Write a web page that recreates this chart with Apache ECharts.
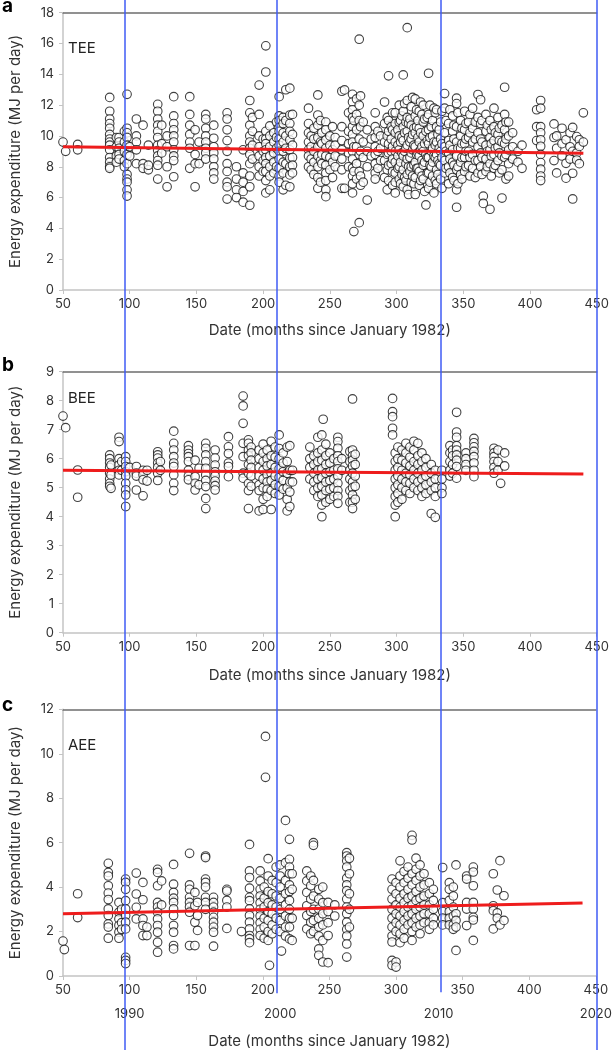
<!DOCTYPE html>
<html>
<head>
<meta charset="utf-8">
<script src="https://cdn.jsdelivr.net/npm/echarts@6/dist/echarts.min.js"></script>
<style>html,body{margin:0;padding:0;background:#fff}#c{width:615px;height:1050px}</style>
</head>
<body>
<div id="c"></div>
<script>
// ---- data (month since Jan 1982 : list of values, MJ per day) ----
const teeCols = [
 [50,[9.6]],[52,[9.0]],[61,[9.45,9.1]],
 [85,[12.5,11.6,11.1,10.8,10.5,10.1,9.8,9.6,9.4,9.1,8.6,8.3,8.0,7.9]],
 [90,[9.9,9.3,8.7,8.3]],[92,[9.9,9.6,9.2,8.8,8.5]],[96,[10.3,9.6,9.0,8.4,8.0]],
 [98,[12.7,10.5,10.2,9.9,9.4,8.8,8.2,7.5,7.2,7.0,6.5,6.1]],[100,[9.3,8.7]],
 [105,[11.1,10.0,9.6,9.1,8.2]],[110,[10.7,8.2,7.9]],[114,[9.4,7.8,8.1]],
 [121,[12.05,11.6,11.1,10.7,10.3,9.9,9.4,9.05,8.7,8.4,8.1,7.2]],[124,[10.7,9.5,8.9]],
 [128,[10.0,9.3,8.0,6.7]],[133,[12.55,11.3,10.8,10.4,10.0,9.6,9.1,8.7,8.4,7.35]],
 [145,[12.55,11.4,10.7,10.1,9.6,9.2,7.9]],[149,[10.4,8.8,8.2,6.7]],[152,[9.6,8.2]],
 [157,[11.4,11.1,10.5,10.0,9.6,9.2,8.9,8.5]],[163,[10.7,9.85,9.3,8.9,8.5,8.0,7.6,7.2]],
 [173,[11.5,11.1,10.4,9.7,9.0,8.2,7.7,7.0,6.7,5.9]],[180,[8.0,7.2,6.5,6.0]],
 [185,[9.1,7.6,7.0,6.4,5.7]],[190,[12.3,11.5,10.7,10.0,9.6,9.2,8.8,8.2,7.4,6.7,5.5]],
 [192,[11.2,10.3,9.4,8.5]],[197,[13.3,11.4,10.0,9.3,8.7,8.0,7.4]],[200,[9.8,9.0,8.4,7.7]],
 [202,[15.85,14.15,10.3,9.8,9.5,9.1,8.6,8.2,7.7,7.1,6.3]],[205,[10.65,10.0,9.3,8.7,8.0,7.4,6.5]],
 [208,[10.2,9.6,8.9,8.3,7.6]],[210,[10.9,9.9,9.2,8.0]],
 [212,[12.55,11.3,11.0,10.55,10.3,9.8,9.4,9.0,8.5,7.9,7.4,7.0]],
 [215,[11.2,10.8,10.2,9.6,9.0,8.3,7.6,6.5]],[217,[13.0,11.0,10.0,9.2,8.2,6.8]],
 [220,[13.1,11.36,10.8,10.3,9.74,9.1,8.55,8.0,7.47,6.7]],[222,[11.4,10.1,9.4,8.6,8.1,7.6]],
 [234,[11.8,10.8,10.2,9.6,9.1,8.7,8.0]],[236,[10.0,9.3,8.5,7.8]],[238,[10.5,9.8,9.0,8.3,7.5]],
 [241,[12.66,11.36,10.7,9.9,9.3,8.7,8.0,7.3,6.6]],[243,[11.0,9.6,8.4,7.0]],[244,[10.2,9.5,8.8,8.2]],
 [247,[10.9,10.4,9.74,9.2,8.7,8.1,7.6,7.1,6.5,6.06]],[250,[10.0,9.4,8.6,7.8]],
 [252,[10.6,9.1,8.3,7.3]],[254,[9.9,9.4,8.7,8.0]],[259,[12.9,10.6,9.7,9.1,8.5,7.8,6.6]],[261,[12.99,6.6]],
 [264,[11.5,10.3,9.5,8.9,8.0]],[267,[12.7,12.2,11.7,11.2,10.6,10.1,9.6,9.0,8.5,7.9,7.4,6.9,6.3]],
 [268,[3.79,11.0,9.3,7.7]],[270,[12.4,11.4,10.4,9.3,8.2,7.2]],[272,[16.28,12.0,11.0,9.8,8.8,7.7,4.37]],
 [273,[12.6,10.6,9.0,7.4,6.8]],
 [275,[10.9,9.6,8.6,7.0]],[278,[10.4,9.0,8.0,5.84]],[281,[9.8,8.7]],
 [284,[11.5,10.6,9.9,9.3,8.8,8.2,7.6,7.2]],[286,[10.3,9.0,7.9]],[288,[10.0,9.2,8.4]],
 [291,[12.2,10.8,9.6,8.4,7.3]],[293,[11.2,10.0,8.8,7.8,6.5]],
 [294,[13.9,11.0,10.3,9.5,8.9,8.1,7.1]],[296,[10.6,9.8,9.0,8.2]],[297,[11.5,10.4,9.3,8.5,7.7,6.8]],
 [299,[11.5,10.8,10.2,9.6,9.0,8.3,7.6,7.0,6.3]],[301,[10.4,9.4,8.7,7.9]],
 [302,[12.0,10.9,10.0,9.1,8.0,7.2]],[303,[11.0,9.6,8.3,6.9]],[304,[11.3,9.9,8.9,7.5]],
 [305,[13.96,11.6,10.6,9.7,8.7,7.8,6.7]],[306,[12.1,10.2,9.0,7.3]],
 [307,[10.9,9.2,8.2,7.1]],[308,[17.03,12.3,11.2,10.3,9.4,8.5,7.5,6.5]],[309,[10.8,9.9,8.0,6.2]],[310,[11.1,9.6,8.6,7.7]],
 [311,[11.9,10.7,9.8,8.9,8.0,7.0]],[312,[12.5,10.1,9.1,7.4]],[313,[10.5,9.4,8.1,6.9]],[314,[12.4,11.3,10.2,9.3,8.3,7.3,6.2]],
 [315,[11.7,10.6,8.8,7.9]],[316,[11.0,9.9,8.9,7.9]],[317,[11.6,10.5,9.6,8.7,7.7,6.8]],[318,[12.2,10.2,9.1,7.1]],[319,[11.4,9.3,8.4,7.4]],
 [320,[12.0,10.9,10.0,9.0,8.1,7.2]],[321,[11.1,9.5,8.3,6.4]],[322,[5.52,10.3,8.8]],[323,[11.2,9.7,8.6,7.6]],
 [324,[14.07,11.4,10.4,9.5,8.6,7.6,6.6]],[325,[12.0,9.9,8.1,7.0]],[326,[10.6,9.0,8.0]],[327,[11.0,10.0,9.2,8.3,7.4]],
 [328,[11.8,9.6,8.7,6.3]],[329,[11.5,9.4,8.6,7.1]],[330,[11.7,10.6,9.6,8.8,7.8,6.9]],[331,[10.1,8.4,7.5]],[332,[10.4,9.2,8.2]],
 [333,[10.9,9.8,9.0,8.1,7.2]],[334,[11.6,9.5,8.6,6.6]],[336,[12.75,11.8,10.2,9.3,8.4,7.6]],[337,[11.0,9.0,7.9]],
 [339,[10.8,9.7,8.9,8.0,6.9]],[340,[11.7,9.4,8.5,7.6]],
 [342,[11.3,10.3,9.1,8.3,7.3]],[343,[10.7,9.8,8.1,7.1]],[345,[12.45,12.1,10.6,9.6,8.7,7.8,6.5,5.37]],
 [346,[11.5,9.2,8.0,6.9]],[348,[11.0,10.0,9.2,8.3,7.5]],[349,[10.5,9.5,8.6,7.2]],[351,[11.6,10.4,9.5,8.6,7.7]],
 [352,[10.8,9.8,9.0,8.0]],[354,[10.9,9.9,9.0,8.1]],[355,[11.4,10.2,8.6,7.4]],
 [357,[11.8,10.5,9.6,8.8,7.9]],[359,[10.9,9.8,8.4,7.3]],[361,[12.69,11.2,10.2,9.3,8.4,7.6]],[363,[12.35,10.8,9.8,8.9,8.0]],
 [364,[11.0,9.6,8.6,7.5]],[365,[6.09,5.62]],[367,[11.4,10.3,9.4,8.5,7.7]],[368,[10.7,9.0,8.0]],[370,[11.0,9.9,9.1,8.2,5.24]],
 [371,[10.4,9.5,8.7,7.4]],[373,[11.8,10.6,9.7,8.8,7.9]],[374,[10.2,9.2,8.1]],[376,[11.2,10.1,9.3,8.4]],
 [377,[10.5,9.7,8.9,7.6]],[379,[10.7,9.6,8.7,7.8,5.97]],
 [381,[13.16,11.4,10.4,9.5,8.6]],[382,[10.9,9.8,8.8,7.2]],[384,[10.9,10.0,9.1,8.2,7.4]],[387,[10.2,9.3,8.5]],
 [391,[9.0,8.3]],[394,[9.4,7.9]],[405,[11.7,10.6,9.7]],
 [408,[12.3,11.8,10.6,10.2,9.75,9.33,8.8,8.27,7.84,7.4,7.1]],
 [418,[10.78,9.9,8.4]],[420,[10.0,9.2,7.6]],[424,[10.5,9.5,8.7]],[427,[9.75,8.22,7.26]],
 [430,[10.2,9.3,8.5]],[432,[10.55,9.0,7.58,5.91]],[435,[9.96,8.9,8.44]],[437,[9.75,9.32,8.2]],
 [440,[11.5,9.6]]
];
const beeCols = [
 [50,[7.47]],[52,[7.07]],[61,[5.61,4.67]],
 [85,[6.13,6.0,5.85,5.7,5.5,5.3,5.15,5.05]],[86,[5.78,5.44,4.98]],
 [92,[6.74,6.59,6.0,5.78,5.6,5.44]],[94,[5.9,5.6]],
 [97,[6.07,5.9,5.73,5.55,5.4,5.15,4.93,4.75,4.35]],[100,[5.7]],
 [105,[5.73,5.5,5.4,4.92]],[110,[5.6,5.45,5.27,4.72]],[113,[5.6,5.23]],
 [121,[6.24,6.13,6.02,5.85,5.7,5.5,5.25]],[123,[5.9,5.6]],
 [133,[6.95,6.53,6.3,6.07,5.85,5.73,5.44,5.15,4.9]],
 [144,[6.45,6.3,6.18,6.07,5.9,5.6,5.4,5.27]],[149,[5.95,5.38,5.15,4.92]],[152,[5.67,5.1]],
 [157,[6.53,6.36,6.13,5.9,5.67,5.44,5.25,5.04,4.63,4.28]],
 [164,[6.3,6.02,5.78,5.55,5.4,5.23,5.07,4.92]],[174,[6.76,6.41,6.18,5.85,5.73,5.38]],
 [185,[8.16,7.82,7.22,6.53,6.07,5.5,5.33]],[189,[6.65,6.53,6.3,6.1,5.8,5.5,5.15,4.9,4.28]],
 [191,[6.4,6.2,5.95,5.7,5.4,5.05]],[197,[6.3,6.0,5.7,5.4,5.1,4.9,4.2]],
 [200,[6.5,6.2,5.9,5.6,5.3,5.0,4.6,4.25]],[203,[6.3,6.0,5.75,5.45,5.2,4.95,4.7]],
 [206,[6.6,6.1,5.8,5.5,5.25,4.9,4.25]],[209,[6.4,6.05,5.7,5.4,5.1,4.8]],
 [212,[6.82,6.35,6.0,5.65,5.35,5.05,4.75]],[215,[6.2,5.85,5.55,5.25,4.95]],
 [218,[6.4,5.9,5.5,5.0,4.6,4.2]],[220,[6.45,5.6,5.2,4.85,4.35]],[222,[5.6,5.2]],
 [235,[6.4,6.0,5.7,5.3]],[238,[6.1,5.8,5.5,5.2,4.9]],[241,[6.74,6.2,5.9,5.6,5.3,5.0,4.7]],
 [244,[6.82,6.3,5.95,5.65,5.35,5.05,4.75,4.4,4.0]],[245,[7.36]],
 [247,[6.5,6.1,5.8,5.5,5.2,4.9,4.5]],[250,[6.2,5.85,5.55,5.25,4.95,4.6]],
 [253,[6.0,5.6,5.3,5.0,4.7]],[256,[6.74,6.59,6.36,6.1,5.9,5.65,5.4,5.15,4.9,4.7,4.46]],
 [259,[6.0,5.6]],[265,[6.25,5.9,5.6,5.3,4.9,4.5]],
 [267,[8.06,6.3,6.1,5.95,5.75,5.5,5.2,5.0,4.75,4.5,4.28]],[269,[6.15,5.8,5.4,5.05,4.6]],
 [297,[8.08,7.62,7.45,7.05,6.82]],[299,[6.2,5.9,5.6,5.3,5.0,4.7,4.4,4.0]],
 [301,[6.4,6.0,5.7,5.4,5.1,4.8,4.5]],[304,[6.3,5.95,5.6,5.3,5.0,4.6]],
 [307,[6.53,6.2,5.85,5.5,5.2,4.9]],[310,[6.4,6.05,5.75,5.45,5.15,4.8]],
 [313,[6.6,6.3,5.9,5.6,5.3,5.0]],[316,[6.53,6.1,5.8,5.5,5.2,4.9]],
 [319,[6.2,5.9,5.6,5.3,5.0,4.7]],[322,[6.0,5.7,5.4,5.1,4.8]],
 [326,[5.8,5.5,5.2,4.9,4.11]],[329,[5.6,5.3,5.0,4.7,3.98]],[334,[5.6,5.3,5.0,4.8]],
 [340,[6.45,6.2,5.9,5.6,5.4]],[342,[6.3,6.1,5.8,5.5]],
 [345,[7.6,6.92,6.74,6.45,6.3,6.13,5.95,5.73,5.33]],[352,[6.2,6.0,5.8,5.6]],
 [358,[6.7,6.55,6.41,6.25,6.07,5.85,5.6,5.38]],[373,[6.36,6.2,6.07,5.9,5.7,5.5]],
 [376,[6.3,5.9,5.6]],[378,[5.15]],[381,[6.2,5.75]]
];
const aeeCols = [
 [50,[1.57]],[51,[1.19]],[61,[3.7,2.63]],
 [84,[5.07,4.66,4.5,4.06,3.73,3.44,3.02,2.72,2.34,2.2,1.7]],
 [92,[3.31,2.87,2.57,2.27,1.97,1.7]],[94,[3.0,2.4,2.1]],
 [97,[4.36,4.21,3.9,3.39,3.02,2.72,2.42,2.12,0.84,0.7,0.56]],
 [105,[4.63,3.69,3.09,2.57]],[110,[4.21,3.43,2.57,2.27,1.82]],[113,[2.2,1.82]],
 [121,[4.8,4.66,4.06,3.31,3.1,2.87,2.57,2.27,1.97,1.52,1.07]],[124,[4.28,3.2]],
 [133,[5.02,4.13,3.76,3.5,3.31,3.02,2.72,2.27,1.97,1.37,1.22]],
 [145,[5.52,4.1,3.9,3.54,3.31,3.1,2.87,1.37]],[149,[3.76,3.16,2.42,1.37]],[151,[3.31,2.72,2.05]],
 [157,[5.4,5.33,4.36,4.21,4.0,3.54,3.31,3.0]],
 [163,[3.54,3.31,3.1,2.87,2.64,2.42,2.2,1.97,1.34]],[173,[3.9,3.82,3.4,3.1,2.14]],[184,[2.0]],
 [190,[5.92,4.73,4.43,3.95,3.54,3.39,3.02,2.72,2.42,2.12,1.82,1.68,1.5]],
 [198,[4.73,4.28,3.9,3.6,3.3,3.0,2.7,2.4,2.1,1.82]],[201,[4.0,3.5,3.1,2.6,2.2,1.7]],
 [202,[10.78,8.94]],[204,[5.28,4.5,3.8,3.3,2.9,2.5,2.0,1.6]],[205,[0.48]],
 [207,[4.3,3.7,3.2,2.8,2.3,1.9]],[210,[4.9,4.2,3.6,3.1,2.6,2.1]],
 [213,[5.0,4.5,4.0,3.5,3.0,2.5,2.0]],[214,[1.12]],[217,[7.0,5.1,4.3,3.7,3.2,2.7,2.2,1.8]],
 [220,[6.15,5.25,4.9,4.6,4.1,3.8,3.4,3.0,2.6,2.2,1.67]],[222,[4.6,3.9,2.6,1.6]],
 [233,[4.73,4.28,3.76,3.16,2.72,2.12]],[236,[4.5,4.06,3.46,2.9,2.42,1.9]],
 [238,[6.0,5.88,4.3,3.6,3.0,2.5,2.0]],[242,[3.9,3.46,3.01,2.6,2.2,1.8,1.22,0.93]],
 [245,[4.0,3.3,2.8,2.3,1.6,0.63]],[249,[3.31,2.9,2.4,1.82,0.6]],[254,[3.2,2.7]],
 [263,[5.55,5.4,5.18,4.9,4.4,4.1,3.84,3.46,3.1,2.8,2.42,2.1,1.8,1.44,0.85]],
 [265,[5.3,4.6,3.7,3.0,2.2]],
 [297,[4.36,3.9,3.46,3.0,2.6,2.2,1.8,1.53,0.7,0.48]],[300,[4.2,3.7,3.2,2.8,2.4,2.0,0.63,0.4]],
 [303,[5.18,4.5,4.0,3.5,3.1,2.7,2.3,1.9,1.5]],[306,[4.7,4.2,3.7,3.3,2.9,2.5,2.1,1.7]],
 [309,[4.9,4.4,3.9,3.5,3.1,2.7,2.3]],[312,[6.33,6.12,4.6,4.1,3.6,3.2,2.8,2.4,2.0,1.6]],
 [315,[5.3,4.8,4.3,3.8,3.4,3.0,2.6,2.2]],[318,[5.0,4.5,4.0,3.5,3.1,2.7,2.3,1.9]],
 [321,[4.6,4.1,3.6,3.2,2.8,2.4]],[325,[4.2,3.7,3.2,2.8,2.4,2.1]],[328,[3.9,3.4,3.0,2.6,2.3]],
 [335,[4.88,3.3,2.9,2.6,2.3]],[340,[4.2,3.9,3.4,2.9,2.6,2.3]],[343,[4.0,3.6,3.1,2.7,2.3,2.1]],
 [345,[5.0,2.8,2.5,2.2,1.15]],[353,[4.5,4.36,3.31,3.01,2.27]],
 [358,[4.9,4.68,4.06,3.31,3.01,2.64,2.52,1.6]],[373,[4.6,3.16,2.94,2.12]],
 [376,[3.87,2.84,2.6]],[378,[5.19,2.3]],[381,[3.61,2.5]]
];
// fitted trend lines: [start month, value], [end month, value]
const teeTrend = [[50, 9.3], [440, 8.87]];
const beeTrend = [[50, 5.6], [440, 5.47]];
const aeeTrend = [[50, 2.8], [440, 3.28]];
// vertical reference lines (decade marks) and their year labels
const decadeLineMonths = [100, 212.5, 334, 450];
const yearLabelMonths = [100, 213, 332, 450];
const yearLabels = ['1990', '2000', '2010', '2020'];
const xTicks = {min: 50, max: 450, interval: 50};
const panelLetters = ['a', 'b', 'c'];
const panelNames = ['TEE', 'BEE', 'AEE'];
const yRanges = [[0, 18, 2], [0, 9, 1], [0, 12, 2]];

// ---- chart ----
const FONT = 'Inter, "Noto Sans", sans-serif';
const expand = cols => cols.flatMap(([m, vals]) => vals.map(v => [m, v]));
const grids = [
  {left: 57.7, right: 18.3, top: 12.7, height: 277.3},
  {left: 57.7, right: 18.3, top: 371.7, height: 261},
  {left: 57.7, right: 18.3, top: 709.3, height: 268},
  {left: 57.7, right: 18.3, top: 0, bottom: 0}
];
// overlay grid fraction (0 = page bottom) where each decade line stops
const decadeLineStops = [0, 0.054, 0.055, 0];
const axisGray = '#c4c4c4';
const xAxes = [], yAxes = [], series = [];
const nameGaps = [33, 35, 58];
const dataSets = [teeCols, beeCols, aeeCols];
const trends = [teeTrend, beeTrend, aeeTrend];
for (let i = 0; i < 3; i++) {
  const bottomIdx = xAxes.length;
  xAxes.push({
    gridIndex: i, type: 'value', min: xTicks.min, max: xTicks.max, interval: xTicks.interval,
    axisLine: {show: true, lineStyle: {color: axisGray, width: 1.5}},
    axisTick: {show: true, length: 4, lineStyle: {color: axisGray}},
    axisLabel: {color: '#333', fontSize: 13, margin: 8, fontFamily: FONT},
    splitLine: {show: false},
    name: 'Date (months since January 1982)', nameLocation: 'middle', nameGap: nameGaps[i],
    nameTextStyle: {fontSize: 15, color: '#333', fontFamily: FONT}
  });
  xAxes.push({
    gridIndex: i, type: 'value', min: xTicks.min, max: xTicks.max, position: 'top',
    axisLine: {show: true, lineStyle: {color: '#6e6e6e', width: 1.5}},
    axisTick: {show: false}, axisLabel: {show: false}, splitLine: {show: false}
  });
  yAxes.push({
    gridIndex: i, type: 'value', min: yRanges[i][0], max: yRanges[i][1], interval: yRanges[i][2],
    axisLine: {show: true, lineStyle: {color: axisGray, width: 1.5}},
    axisTick: {show: true, length: 4, lineStyle: {color: axisGray}},
    axisLabel: {color: '#333', fontSize: 13, margin: 9, fontFamily: FONT},
    splitLine: {show: false},
    name: 'Energy expenditure (MJ per day)', nameLocation: 'middle', nameGap: 40,
    nameTextStyle: {fontSize: 15, color: '#333', fontFamily: FONT}
  });
  series.push({
    type: 'scatter', xAxisIndex: bottomIdx, yAxisIndex: i, data: expand(dataSets[i]),
    symbol: 'circle', symbolSize: 8.6,
    itemStyle: {color: '#fff', borderColor: '#111', borderWidth: 1.1},
    emphasis: {disabled: true}, z: 2
  });
  series.push({
    type: 'line', xAxisIndex: bottomIdx, yAxisIndex: i, data: trends[i],
    showSymbol: false, symbol: 'none', lineStyle: {color: '#ee1c1c', width: 3}, z: 4
  });
}
// year labels under panel c
xAxes.push({
  gridIndex: 2, type: 'value', min: xTicks.min, max: xTicks.max, position: 'bottom', offset: 24,
  axisLine: {show: false}, axisTick: {show: false}, splitLine: {show: false},
  axisLabel: {color: '#333', fontSize: 13, fontFamily: FONT, margin: 8,
    customValues: yearLabelMonths,
    formatter: v => { const k = yearLabelMonths.indexOf(v); return k >= 0 ? yearLabels[k] : ''; }}
});
// overlay grid for full-height decade lines
const overlayX = xAxes.length;
xAxes.push({gridIndex: 3, type: 'value', min: xTicks.min, max: xTicks.max, show: false});
yAxes.push({gridIndex: 3, type: 'value', min: 0, max: 1, show: false});
series.push({
  type: 'scatter', xAxisIndex: overlayX, yAxisIndex: 3, data: [], z: 10,
  markLine: {symbol: 'none', silent: true, animation: false, label: {show: false},
    lineStyle: {color: '#3f5bf5', width: 1.5, type: 'solid'},
    data: decadeLineMonths.map((m, k) => [{coord: [m, decadeLineStops[k]]}, {coord: [m, 1]}])}
});
const titles = [];
const letterTops = [-3, 356, 696];
const nameTops = [41, 391, 738];
for (let i = 0; i < 3; i++) {
  titles.push({text: panelLetters[i], left: 2, top: letterTops[i], padding: 0,
    textStyle: {fontSize: 19, fontWeight: 'bold', color: '#000', fontFamily: FONT}});
  titles.push({text: panelNames[i], left: 68, top: nameTops[i], padding: 0,
    textStyle: {fontSize: 15, fontWeight: 'normal', color: '#222', fontFamily: FONT}});
}
const chart = echarts.init(document.getElementById('c'), null, {renderer: 'canvas'});
chart.setOption({
  animation: false, backgroundColor: '#fff',
  title: titles, grid: grids, xAxis: xAxes, yAxis: yAxes, series: series
});
</script>
</body>
</html>
